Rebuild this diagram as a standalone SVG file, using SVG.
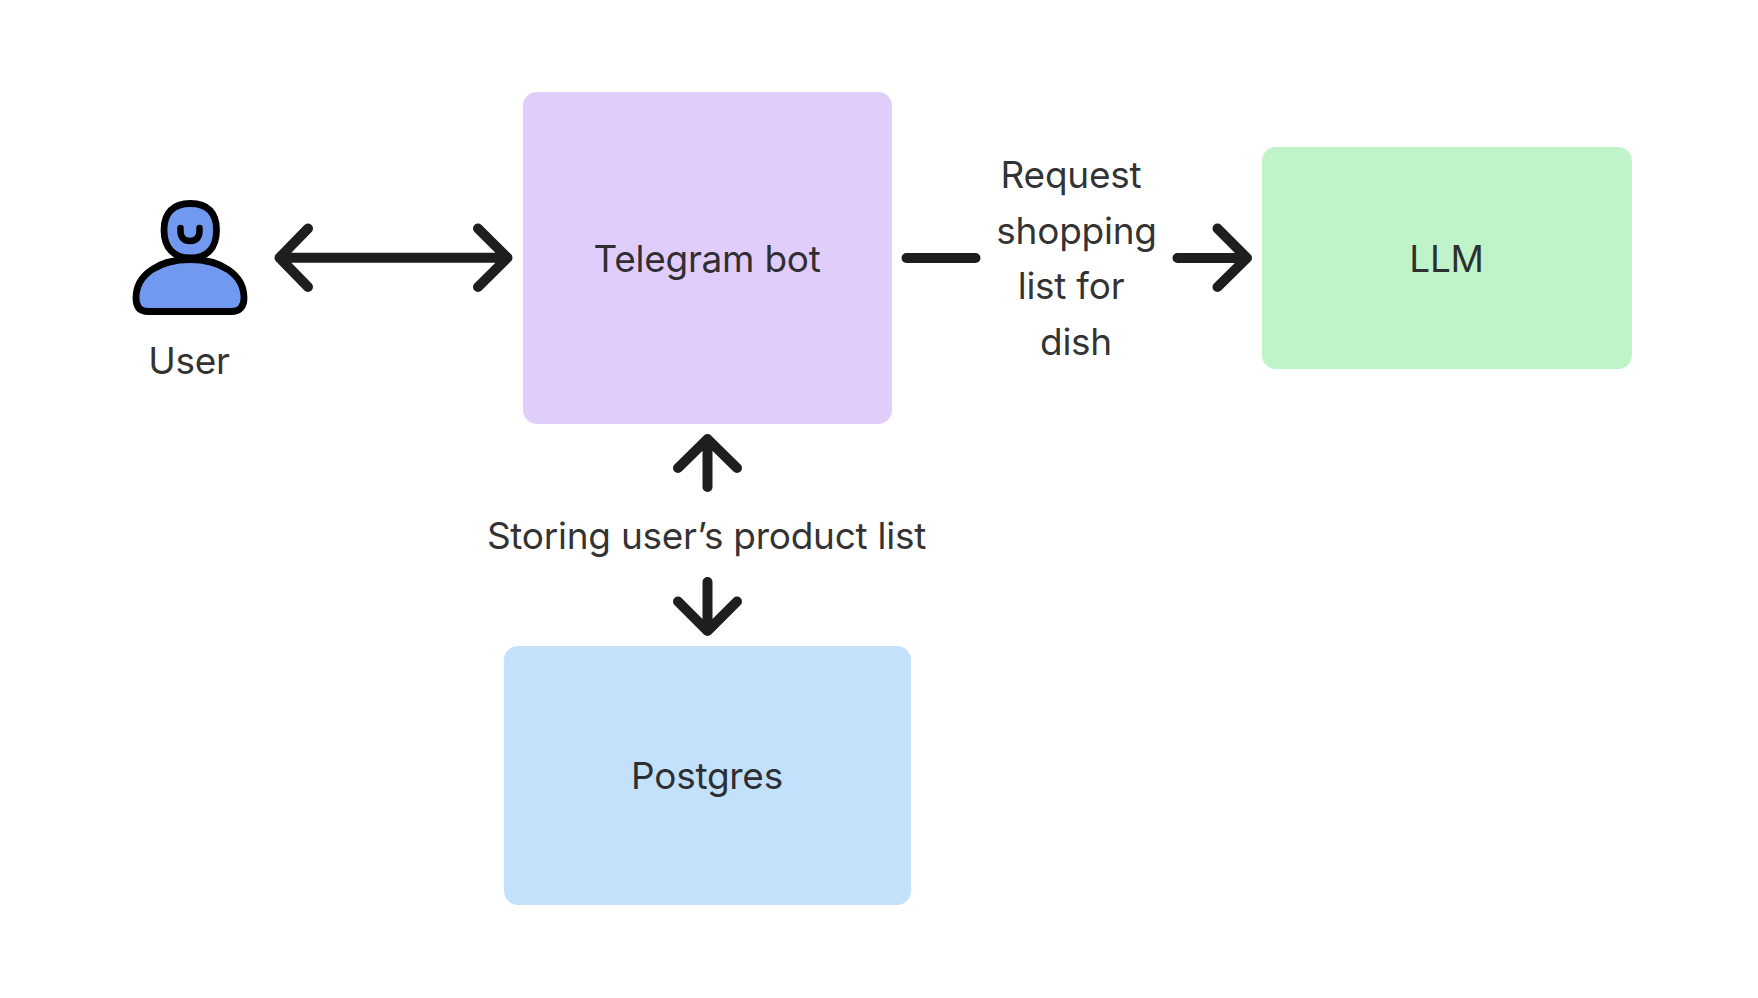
<svg xmlns="http://www.w3.org/2000/svg" width="1758" height="998" viewBox="0 0 1758 998">
<style>
text{font-family:Inter,"Noto Sans",sans-serif;font-size:37px;letter-spacing:-.26px;text-anchor:middle;fill:#1e1e1e;fill-opacity:.93}
.c{fill:none;stroke:#1e1e1e;stroke-width:10;stroke-linecap:round;stroke-linejoin:round}
.u{stroke:#000;stroke-width:6.800;stroke-linejoin:round;stroke-linecap:round;fill:#7299f0}
</style>
<rect width="1758" height="998" fill="#fff"/>
<g id="connectors">
<path class="c" d="M279.500 257.700H507.500M308 228.500L279.500 257.700L308 287M478 228.500L507.500 257.700L478 287"/>
<path class="c" d="M906.500 258H975.500"/>
<path class="c" d="M1177.500 258H1247M1217.500 228.500L1247 258L1217.500 287"/>
<path class="c" d="M707.500 487V439M678 468L707.500 439L737 468"/>
<path class="c" d="M707.500 582V631M678 601.500L707.500 631L737 601.500"/>
</g>
<g id="user">
<path class="u" d="M136 298C136 274 160 259.500 190 259.500C220 259.500 244 274 244 298C244 307 239.500 311.500 231.500 311.500H148C140 311.500 136 307 136 298Z"/>
<path class="u" d="M190.500 203.500C208 203.500 216.500 213 216.500 230C216.500 248 207 258 190.500 258C174 258 164 248 164 230C164 213 173 203.500 190.500 203.500Z"/>
<path d="M180.500 228V231C180.500 237.500 184 241 190 241C196 241 199.500 237.500 199.500 231V228" fill="none" stroke="#000" stroke-width="6.500" stroke-linecap="round"/>
<text x="189" y="374">User</text>
</g>
<g id="telegram"><rect x="523" y="92" width="369" height="332" rx="14" fill="#e0cdfb"/><text x="707" y="272">Telegram bot</text></g>
<g id="llm"><rect x="1262" y="147" width="370" height="222" rx="14" fill="#bff3ca"/><text x="1446.500" y="272">LLM</text></g>
<g id="postgres"><rect x="504" y="646" width="407" height="259" rx="14" fill="#c4e1fc"/><text x="707" y="789">Postgres</text></g>
<g id="label-request">
<text x="1071" y="188">Request</text>
<text x="1076.500" y="244">shopping</text>
<text x="1071" y="299">list for</text>
<text x="1076" y="355">dish</text>
</g>
<g id="label-storing"><text x="706.500" y="549">Storing user’s product list</text></g>
</svg>
